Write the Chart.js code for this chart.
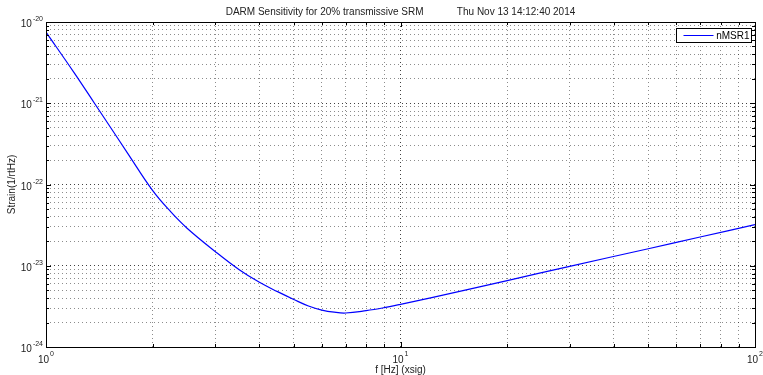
<!DOCTYPE html>
<html>
<head>
<meta charset="utf-8">
<script src="https://cdn.jsdelivr.net/npm/chart.js@4.4.1/dist/chart.umd.min.js"></script>
<style>
  body { margin: 0; background: #fff; }
  canvas { display: block; }
</style>
</head>
<body>
<canvas id="darm" width="763" height="375"></canvas>
<script>
// values
const freqs  = [1, 1.2, 1.37, 1.5, 1.7, 2, 2.25, 2.5, 3, 3.5, 4, 4.5, 5, 5.5, 6, 6.5, 7, 8, 9, 10, 15, 20, 30, 50, 70, 100];
const strain = [7.5e-21, 2.38e-21, 1.0e-21, 5.52e-22, 2.42e-22, 8.4e-23, 4.6e-23, 2.9e-23, 1.5e-23, 9.0e-24,
                6.25e-24, 4.8e-24, 3.85e-24, 3.2e-24, 2.85e-24, 2.68e-24, 2.62e-24, 2.8e-24, 3.05e-24, 3.35e-24,
                4.93e-24, 6.56e-24, 9.84e-24, 1.62e-23, 2.26e-23, 3.2e-23];

const xRange = [1, 100];
const yRange = [1e-24, 1e-20];
const xDecades = [0, 1, 2];
const yDecades = [-24, -23, -22, -21, -20];

const titleText = "DARM Sensitivity for 20% transmissive SRM            Thu Nov 13 14:12:40 2014";
const xTitle = "f [Hz] (xsig)";
const yTitle = "Strain(1/rtHz)";
const seriesName = "nMSR1";

const FONT = '"Liberation Sans", Arial, Helvetica, sans-serif';

function isDecade(v) {
    const l = Math.log10(v);
    return Math.abs(l - Math.round(l)) < 1e-6;
}

// every 1..9 x 10^k tick inside the range
function logTicks(min, max) {
    const out = [];
    for (let e = Math.floor(Math.log10(min)); e <= Math.ceil(Math.log10(max)); e++) {
        for (let m = 1; m <= 9; m++) {
            const v = Number((m * Math.pow(10, e)).toPrecision(6));
            if (v >= min * 0.999 && v <= max * 1.001) out.push({ value: v, major: m === 1 });
        }
    }
    return out;
}

const gridColor = c => (c.tick && isDecade(c.tick.value)) ? "rgba(0,0,0,0.75)" : "rgba(0,0,0,0.45)";

// matlab style box, inward ticks, exponent labels, titles and legend
const matlabAxes = {
    id: "matlabAxes",
    afterDraw(chart) {
        const ctx = chart.ctx;
        const a = chart.chartArea;
        const xs = chart.scales.x, ys = chart.scales.y;
        ctx.save();

        // inward tick marks on all four sides
        ctx.strokeStyle = "#000";
        ctx.lineWidth = 1;
        ctx.beginPath();
        xs.ticks.forEach(t => {
            const px = Math.round(xs.getPixelForValue(t.value)) + 0.5;
            const len = isDecade(t.value) ? 5 : 3;
            ctx.moveTo(px, a.bottom); ctx.lineTo(px, a.bottom - len);
            ctx.moveTo(px, a.top); ctx.lineTo(px, a.top + len);
        });
        ys.ticks.forEach(t => {
            const py = Math.round(ys.getPixelForValue(t.value)) + 0.5;
            const len = isDecade(t.value) ? 5 : 3;
            ctx.moveTo(a.left, py); ctx.lineTo(a.left + len, py);
            ctx.moveTo(a.right, py); ctx.lineTo(a.right - len, py);
        });
        ctx.stroke();

        // box
        ctx.strokeRect(Math.round(a.left) + 0.5, Math.round(a.top) + 0.5,
                       Math.round(a.right - a.left), Math.round(a.bottom - a.top));

        ctx.fillStyle = "#222";
        ctx.textBaseline = "alphabetic";

        // y tick labels 10^e
        yDecades.forEach(e => {
            const py = ys.getPixelForValue(Math.pow(10, e));
            ctx.font = "7px " + FONT;
            ctx.textAlign = "right";
            const exp = String(e);
            const ew = ctx.measureText(exp).width;
            ctx.fillText(exp, a.left - 3, py - 1);
            ctx.font = "10px " + FONT;
            ctx.fillText("10", a.left - 3 - ew - 1, py + 5);
        });

        // x tick labels 10^e
        xDecades.forEach(e => {
            const px = xs.getPixelForValue(Math.pow(10, e));
            ctx.font = "10px " + FONT;
            ctx.textAlign = "right";
            ctx.fillText("10", px + 3, a.bottom + 16);
            ctx.font = "7px " + FONT;
            ctx.textAlign = "left";
            ctx.fillText(String(e), px + 4, a.bottom + 9);
        });

        // titles
        const cx = (a.left + a.right) / 2;
        ctx.font = "10px " + FONT;
        ctx.textAlign = "center";
        ctx.textBaseline = "middle";
        ctx.fillText(titleText, cx, 12);
        ctx.fillText(xTitle, cx, 370);
        ctx.save();
        ctx.translate(12, (a.top + a.bottom) / 2);
        ctx.rotate(-Math.PI / 2);
        ctx.fillText(yTitle, 0, 0);
        ctx.restore();

        // legend box
        const ds = chart.data.datasets[0];
        const lx = 676.5, ly = 28.5, lw = 75, lh = 14;
        ctx.fillStyle = "#fff";
        ctx.fillRect(lx, ly, lw, lh);
        ctx.strokeStyle = "#000";
        ctx.strokeRect(lx, ly, lw, lh);
        ctx.strokeStyle = ds.borderColor;
        ctx.beginPath();
        ctx.moveTo(lx + 7, ly + 7); ctx.lineTo(lx + 37, ly + 7);
        ctx.stroke();
        ctx.fillStyle = "#000";
        ctx.textAlign = "right";
        ctx.fillText(ds.label, lx + lw - 2, ly + 7.5);

        ctx.restore();
    }
};

new Chart(document.getElementById("darm"), {
    type: "line",
    data: {
        datasets: [{
            label: seriesName,
            data: freqs.map((f, i) => ({ x: f, y: strain[i] })),
            borderColor: "#0000ff",
            borderWidth: 1.2,
            pointRadius: 0,
            fill: false,
            tension: 0.4
        }]
    },
    options: {
        responsive: false,
        animation: false,
        layout: { padding: { left: 46, right: 8, top: 22, bottom: 28 } },
        plugins: { legend: { display: false }, tooltip: { enabled: false } },
        scales: {
            x: {
                type: "logarithmic",
                min: xRange[0], max: xRange[1],
                afterBuildTicks: s => { s.ticks = logTicks(xRange[0], xRange[1]); },
                ticks: { display: false },
                grid: { drawTicks: false, color: gridColor, lineWidth: 1 },
                border: { display: false, dash: [1, 3] }
            },
            y: {
                type: "logarithmic",
                min: yRange[0], max: yRange[1],
                afterBuildTicks: s => { s.ticks = logTicks(yRange[0], yRange[1]); },
                ticks: { display: false },
                grid: { drawTicks: false, color: gridColor, lineWidth: 1 },
                border: { display: false, dash: [1, 3] }
            }
        }
    },
    plugins: [matlabAxes]
});
</script>
</body>
</html>
